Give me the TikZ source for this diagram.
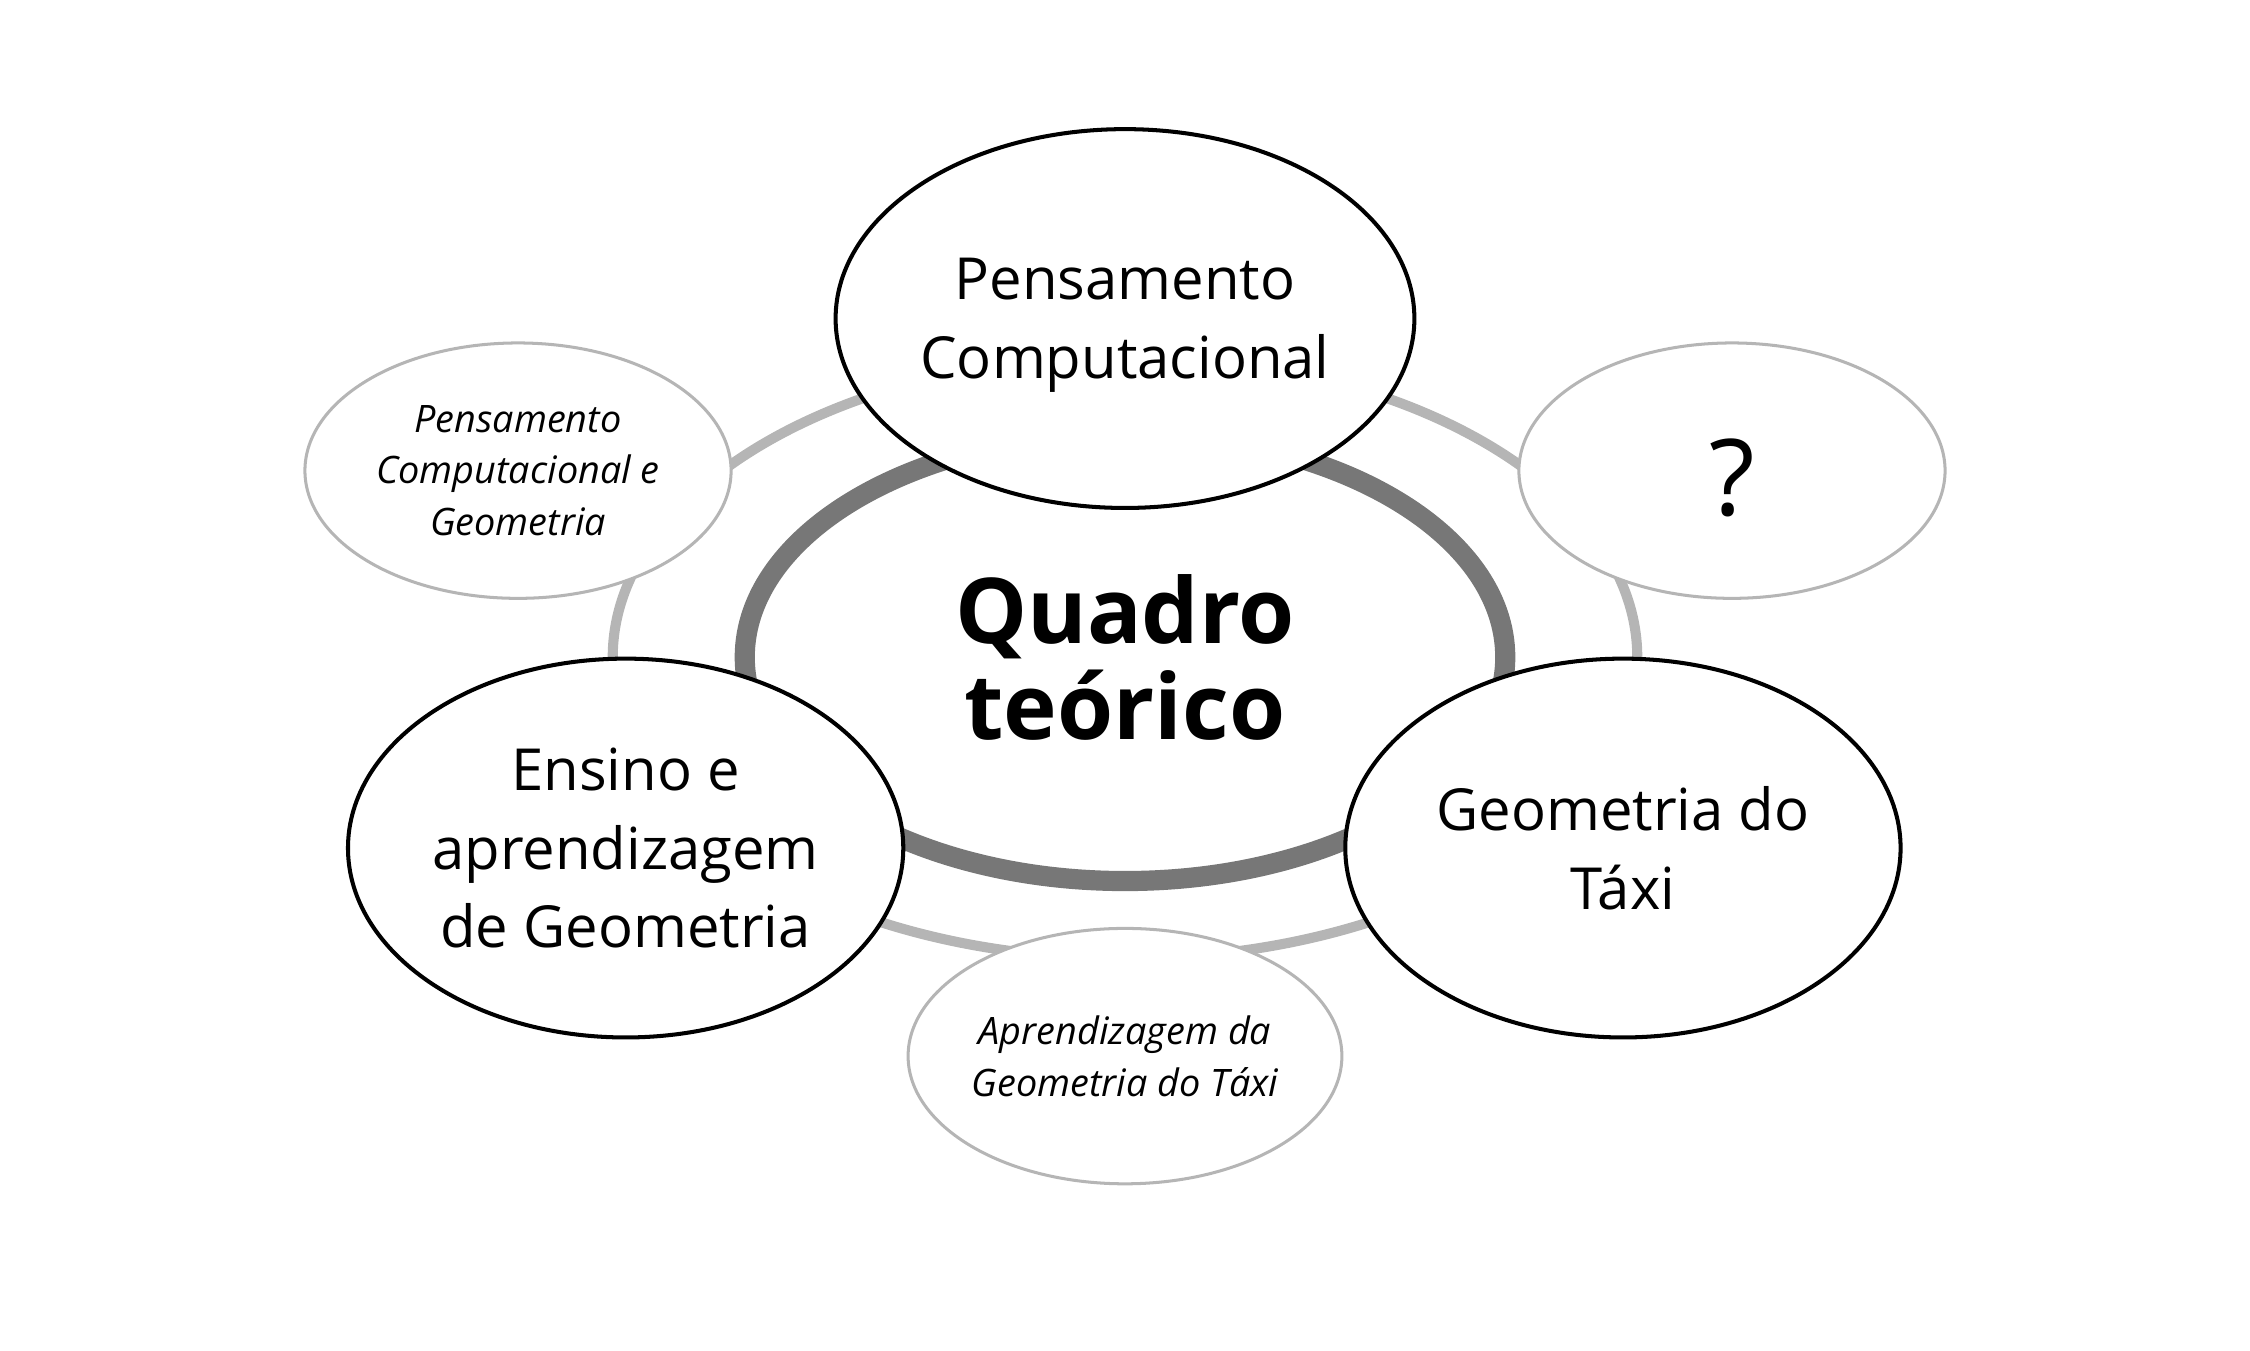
\documentclass[tikz,border=0pt]{standalone}
\usepackage{fontspec}
\setmainfont{Open Sans}
\usetikzlibrary{shapes.geometric}

\definecolor{ringdark}{HTML}{777777}
\definecolor{ringlight}{HTML}{B5B5B5}

\begin{document}
\begin{tikzpicture}[
  x=0.1mm, y=-0.1mm,
  orbit/.style={draw=ringlight, ellipse, line width=2pt, minimum width=7.14cm, minimum height=4.2cm, inner sep=0pt},
  core/.style={draw=ringdark, ellipse, fill=white, line width=4pt, minimum width=5.3cm, minimum height=3.12cm, inner sep=0pt, align=center, font=\fontsize{18}{19}\selectfont\bfseries},
  topic/.style={draw, ellipse, fill=white, line width=0.8pt, minimum width=3.87cm, minimum height=2.64cm, inner sep=0pt, align=center, font=\fontsize{11.5}{15.6}\selectfont},
  link/.style={draw=ringlight, ellipse, fill=white, line width=0.6pt, minimum width=2.97cm, minimum height=1.78cm, inner sep=0pt, align=center, font=\fontsize{7.5}{10.2}\selectfont\itshape}
]
  \useasboundingbox (0,0) rectangle (1568,941);

  % rings behind everything
  \node[orbit] (outer) at (784,458) {};
  \node[core] (quadro) at (784,458) {Quadro\\teórico};

  % main topics
  \node[topic, text depth=-1pt] (pc) at (784,222) {Pensamento\\Computacional};
  \node[topic] (ensino) at (436,591) {Ensino e\\aprendizagem\\de Geometria};
  \node[topic] (taxi) at (1131,591) {Geometria do\\Táxi};

  % links between topics
  \node[link] (pcgeo) at (361,328) {Pensamento\\Computacional e\\Geometria};
  \node[link, font=\fontsize{21}{24}\selectfont, text height=18pt] (open) at (1207,328) {?};
  \node[link] (aprend) at (784,736) {Aprendizagem da\\Geometria do Táxi};
\end{tikzpicture}
\end{document}
